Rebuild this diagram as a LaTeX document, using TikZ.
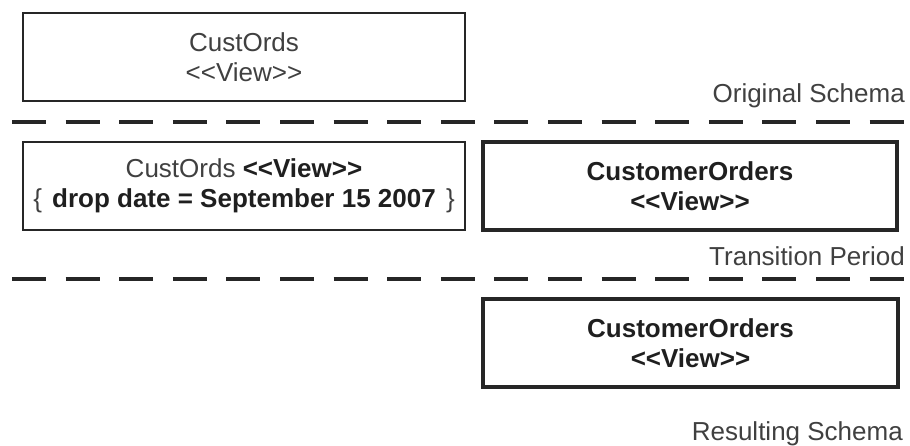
\documentclass[tikz,border=0pt]{standalone}
\usepackage{fontspec}
\setmainfont{Liberation Sans}
\newcommand\vw{<\kern0pt<View>\kern0pt>}
\begin{document}
\begin{tikzpicture}[x=1pt,y=-1pt,
  viewbox/.style={draw=black!85, line width=2.6pt, rectangle, inner sep=0pt, align=center,
    font=\fontsize{26}{30}\selectfont, text=black!75},
  boldbox/.style={viewbox, line width=3.4pt, text=black!88},
  sep/.style={draw=black!85, line width=3.2pt, dash pattern=on 34pt off 19.6pt},
  lbl/.style={anchor=base east, inner sep=0pt, font=\fontsize{26}{30}\selectfont, text=black!75}]
\useasboundingbox (0,0) rectangle (910,445);
\node[viewbox, minimum width=442pt, minimum height=88pt] (orig) at (244,57) {CustOrds\\\vw};
\node[viewbox, minimum width=442pt, minimum height=88pt] (trans) at (244,186)
  {CustOrds {\bfseries\color{black!88}\vw}\\\{\hspace{3pt} {\bfseries\color{black!88}drop date = September 15 2007} \hspace{3pt}\}};
\node[boldbox, minimum width=414pt, minimum height=88pt] (newt) at (690,186) {\bfseries CustomerOrders\\\bfseries\vw};
\node[boldbox, minimum width=415pt, minimum height=88pt] (newr) at (690.5,343) {\bfseries CustomerOrders\\\bfseries\vw};
\node[lbl] (l1) at (905,102) {Original Schema};
\node[lbl] (l2) at (905,265) {Transition Period};
\node[lbl] (l3) at (903,440) {Resulting Schema};
\coordinate (d1a) at (12,122); \coordinate (d1b) at (910,122);
\coordinate (d2a) at (12,279); \coordinate (d2b) at (910,279);
\draw[sep] (d1a) -- (d1b);
\draw[sep] (d2a) -- (d2b);
\end{tikzpicture}
\end{document}
